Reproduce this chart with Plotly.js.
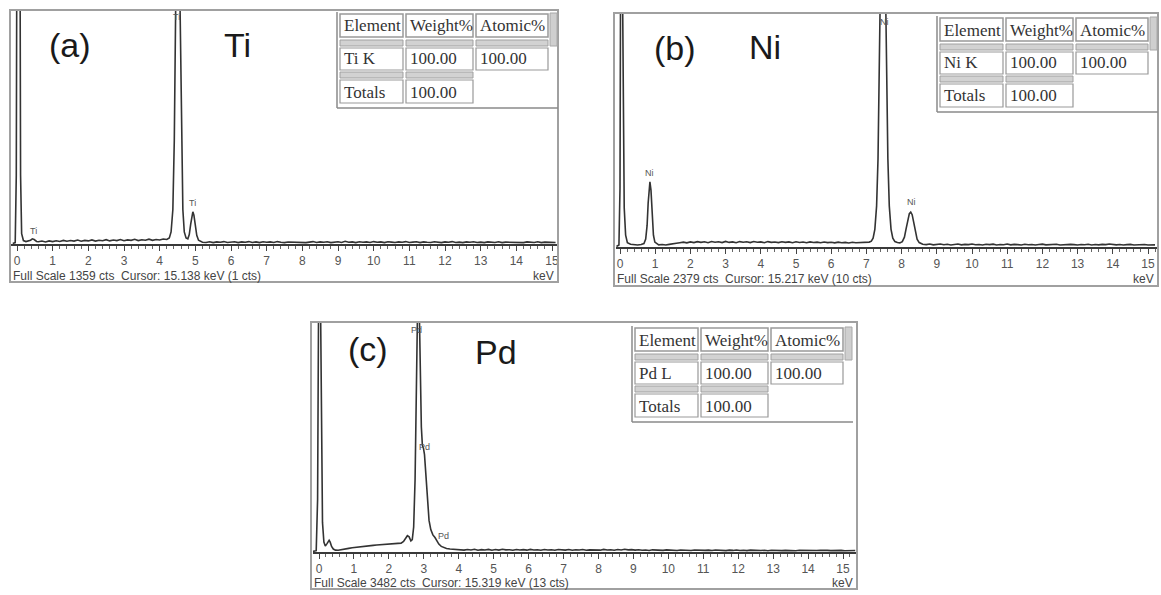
<!DOCTYPE html>
<html><head><meta charset="utf-8">
<script src="https://cdn.plot.ly/plotly-3.0.1.min.js"></script>
<style>html,body{margin:0;padding:0;background:#fff;}#chart{width:1161px;height:595px;}</style>
</head><body><div id="chart"></div>
<script>
// ---------------- data ----------------
const panelLetters = ['(a)', '(b)', '(c)'];
const panelElements = ['Ti', 'Ni', 'Pd'];
const fullScale = [1359, 2379, 3482];
const cursorKeV = ['15.138', '15.217', '15.319'];
const cursorCts = [1, 10, 13];
const tickKeV = [0,1,2,3,4,5,6,7,8,9,10,11,12,13,14,15];

const tableHeader = ['Element', 'Weight%', 'Atomic%'];
const tableLine = ['Ti K', 'Ni K', 'Pd L'];
const tableWeight = ['100.00', '100.00', '100.00'];
const tableAtomic = ['100.00', '100.00', '100.00'];
const tableTotalLabel = 'Totals';
const tableTotals = ['100.00', '100.00', '100.00'];

// Ti spectrum (keV, counts)
const tiEnergy = [-0.12,-0.05,-0.02,0.01,0.07,0.1,0.13,0.18,0.25,0.32,0.38,0.43,0.48,0.55,0.6,0.7,0.8,0.9,1.0,1.1,1.2,1.3,1.4,1.5,1.6,1.7,1.8,1.9,2.0,2.1,2.2,2.3,2.4,2.5,2.6,2.7,2.8,2.9,3.0,3.1,3.2,3.3,3.4,3.5,3.6,3.7,3.8,3.9,4.0,4.1,4.2,4.27,
4.32,4.37,4.41,4.45,4.48,4.51,4.54,4.57,4.61,4.65,4.69,4.74,4.79,4.83,4.87,4.9,4.93,4.96,5.0,5.04,5.09,5.2,
5.3,5.4,5.5,5.6,5.7,5.8,5.9,6.0,6.1,6.2,6.3,6.4,6.5,6.6,6.7,6.8,6.9,7.0,7.1,7.2,7.3,7.4,7.5,7.6,7.7,7.8,7.9,8.0,8.1,8.2,8.3,8.4,8.5,8.6,8.7,8.8,8.9,9.0,9.1,9.2,9.3,9.4,9.5,9.6,9.7,9.8,9.9,10.0,10.1,10.2,10.3,10.4,10.5,10.6,10.7,10.8,10.9,11.0,11.1,11.2,11.3,11.4,11.5,11.6,11.7,11.8,11.9,12.0,12.1,12.2,12.3,12.4,12.5,12.6,12.7,12.8,12.9,13.0,13.1,13.2,13.3,13.4,13.5,13.6,13.7,13.8,13.9,14.0,14.1,14.2,14.3,14.4,14.5,14.6,14.7,14.8,14.9,15.0,15.1];
const tiCounts = [3,8,400,3000,3000,400,60,20,14,16,22,30,26,15,13,17,12,18,14,19,15,21,16,20,17,23,16,21,18,24,17,22,19,25,18,23,20,26,19,24,21,27,20,25,22,28,21,26,23,29,26,35,
70,200,600,1400,2300,2700,2300,1400,600,200,70,35,30,55,115,168,187,168,110,50,22,10,
9,13,8,12,10,14,9,11,13,8,12,10,14,9,12,8,13,10,12,9,14,10,8,12,11,13,9,12,8,11,14,9,12,10,13,8,11,13,9,16,10,12,8,13,10,12,9,14,10,12,8,13,11,9,12,10,14,9,11,13,8,12,10,9,13,11,8,12,10,14,9,11,8,12,10,13,9,11,8,12,10,9,13,8,11,10,12,9,11,8,12,10,9,13,8,11,10,12,9];
const tiLabelEnergy = [0.45, 4.47, 4.93];
const tiLabelCounts = [74, 1318, 240];

// Ni spectrum (keV, counts)
const niEnergy = [-0.1,-0.03,0.0,0.02,0.06,0.09,0.12,0.16,0.21,0.3,0.4,0.5,0.6,0.68,
0.73,0.77,0.8,0.83,0.85,0.88,0.91,0.95,0.99,1.05,
1.1,1.2,1.3,1.4,1.5,1.6,1.7,1.8,1.9,2.0,2.1,2.2,2.3,2.4,2.5,2.6,2.7,2.8,2.9,3.0,3.1,3.2,3.3,3.4,3.5,3.6,3.7,3.8,3.9,4.0,4.1,4.2,4.3,4.4,4.5,4.6,4.7,4.8,4.9,5.0,5.1,5.2,5.3,5.4,5.5,5.6,5.7,5.8,5.9,6.0,6.1,6.2,6.3,6.4,6.5,6.6,6.7,6.8,6.9,7.0,7.08,7.14,
7.19,7.24,7.29,7.33,7.37,7.41,7.44,7.47,7.5,7.53,7.57,7.61,7.65,7.7,7.75,7.81,7.88,7.95,8.02,8.08,8.13,8.18,8.22,8.26,8.3,8.34,8.39,8.44,8.5,8.56,
8.6,8.7,8.8,8.9,9.0,9.1,9.2,9.3,9.4,9.5,9.6,9.7,9.8,9.9,10.0,10.1,10.2,10.3,10.4,10.5,10.6,10.7,10.8,10.9,11.0,11.1,11.2,11.3,11.4,11.5,11.6,11.7,11.8,11.9,12.0,12.1,12.2,12.3,12.4,12.5,12.6,12.7,12.8,12.9,13.0,13.1,13.2,13.3,13.4,13.5,13.6,13.7,13.8,13.9,14.0,14.1,14.2,14.3,14.4,14.5,14.6,14.7,14.8,14.9,15.0,15.1,15.2];
const niCounts = [5,20,600,3200,3200,1100,400,120,45,28,24,21,26,35,
80,220,450,630,665,580,340,120,50,30,
22,25,21,27,30,38,44,50,42,52,45,55,47,53,44,56,48,54,45,57,47,52,44,55,49,53,45,56,48,52,44,55,47,51,45,54,47,52,44,53,46,51,43,52,46,50,43,51,45,49,42,50,44,47,41,48,43,46,42,48,50,60,
90,180,420,900,1800,3000,4100,4500,4100,3000,1800,900,420,180,90,55,45,42,55,100,190,280,340,357,330,260,160,80,45,32,
28,24,30,22,27,31,23,28,21,26,30,22,27,24,31,23,26,20,28,24,29,21,26,23,30,22,27,24,21,28,23,26,20,25,29,22,26,23,28,21,25,22,27,24,20,26,23,28,21,25,22,27,24,31,26,22,25,20,24,27,21,25,22,26,20,24,22];
const niLabelEnergy = [0.83, 7.5, 8.27];
const niLabelCounts = [754, 2297, 459];

// Pd spectrum (keV, counts)
const pdEnergy = [-0.2,-0.08,-0.04,-0.01,0.04,0.07,0.1,0.14,0.18,0.22,0.26,0.29,0.32,0.36,0.41,0.47,0.55,0.65,0.75,0.85,0.95,1.05,1.15,1.25,1.35,1.45,1.55,1.65,1.75,1.85,1.95,2.05,2.15,2.25,2.35,2.42,2.48,2.53,2.58,2.63,2.67,2.71,2.75,2.78,2.81,2.84,2.87,2.9,2.93,2.96,2.99,3.02,3.06,3.1,3.15,3.2,3.26,3.32,3.37,3.43,3.5,3.57,3.65,3.75,3.85,3.95,
4.05,4.15,4.25,4.35,4.45,4.55,4.65,4.75,4.85,4.95,5.05,5.15,5.25,5.35,5.45,5.55,5.65,5.75,5.85,5.95,6.05,6.15,6.25,6.35,6.45,6.55,6.65,6.75,6.85,6.95,7.05,7.15,7.25,7.35,7.45,7.55,7.65,7.75,7.85,7.95,8.05,8.15,8.25,8.35,8.45,8.55,8.65,8.75,8.85,8.95,9.05,9.15,9.25,9.35,9.45,9.55,9.65,9.75,9.85,9.95,10.05,10.15,10.25,10.35,10.45,10.55,10.65,10.75,10.85,10.95,11.05,11.15,11.25,11.35,11.45,11.55,11.65,11.75,11.85,11.95,12.05,12.15,12.25,12.35,12.45,12.55,12.65,12.75,12.85,12.95,13.05,13.15,13.25,13.35,13.45,13.55,13.65,13.75,13.85,13.95,14.05,14.15,14.25,14.35,14.45,14.55,14.65,14.75,14.85,14.95,15.05,15.15,15.25,15.35];
const pdCounts = [5,20,800,4000,4000,1400,450,150,90,120,165,178,150,85,45,28,26,32,42,55,64,72,80,86,92,97,101,106,110,113,116,119,122,126,135,160,215,248,230,170,190,380,1100,2400,3900,4400,3700,2600,1900,1620,1580,1480,1150,750,480,340,260,220,175,120,85,65,52,45,40,36,
34,28,38,30,42,27,36,31,40,26,37,29,41,32,35,27,39,30,36,28,40,31,34,26,38,30,35,27,39,32,29,37,26,34,30,38,27,33,29,36,28,40,31,35,27,38,30,42,33,36,28,34,26,31,24,33,27,30,25,32,26,29,23,31,25,28,22,30,26,33,24,28,22,30,25,27,21,29,24,31,23,27,21,28,24,30,22,26,20,27,23,29,21,25,22,28,20,26,23,29,21,25,22,27,20,24,21,26,22,25,20,24,21,23];
const pdLabelEnergy = [2.78, 3.02, 3.55];
const pdLabelCounts = [3375, 1600, 250];

// ---------------- layout geometry (pixels) ----------------
const W = 1161, H = 595;
const PX = v => v / W;
const PY = v => 1 - v / H;

const spectra = [
  {E: tiEnergy, C: tiCounts, LE: tiLabelEnergy, LC: tiLabelCounts},
  {E: niEnergy, C: niCounts, LE: niLabelEnergy, LC: niLabelCounts},
  {E: pdEnergy, C: pdCounts, LE: pdLabelEnergy, LC: pdLabelCounts}
];
const geom = [
  {zero: 17, fifteen: 552, left: 11, right: 557, axisY: 244, topY: 10, frame: [10, 10, 558, 282], table: [337, 12], letter: [70, 45], elem: [237, 45], footY: 276},
  {zero: 620, fifteen: 1148, left: 616, right: 1157, axisY: 247, topY: 14, frame: [614, 13, 1158, 286], table: [937, 16], letter: [675, 48], elem: [765, 47], footY: 279},
  {zero: 319, fifteen: 843, left: 313, right: 856, axisY: 552, topY: 323, frame: [311, 322, 857, 589], table: [632, 326], letter: [368, 349], elem: [496, 352], footY: 583}
];

const traces = [];
const layout = {
  width: W, height: H,
  margin: {l: 0, r: 0, t: 0, b: 0},
  paper_bgcolor: '#fff', plot_bgcolor: '#fff',
  showlegend: false,
  shapes: [], annotations: []
};

const sansFont = 'Liberation Sans, Arial, sans-serif';
const narrowFont = 'Liberation Sans Narrow, Arial Narrow, Liberation Sans, sans-serif';
const serifFont = 'Liberation Serif, Times New Roman, serif';

function addRect(x0, y0, x1, y1, line, width, fill) {
  layout.shapes.push({type: 'rect', xref: 'paper', yref: 'paper', x0: PX(x0), x1: PX(x1), y0: PY(y1), y1: PY(y0),
    line: {color: line, width: width}, fillcolor: fill || 'rgba(0,0,0,0)', layer: 'above'});
}
function addLine(x0, y0, x1, y1, color, width) {
  layout.shapes.push({type: 'line', xref: 'paper', yref: 'paper', x0: PX(x0), x1: PX(x1), y0: PY(y0), y1: PY(y1),
    line: {color: color, width: width}, layer: 'above'});
}
function addText(x, y, text, font, anchor) {
  layout.annotations.push({xref: 'paper', yref: 'paper', x: PX(x), y: PY(y), text: text, showarrow: false,
    xanchor: anchor || 'left', yanchor: 'middle', font: font});
}

function addTable(x0, y0, i) {
  const cols = [[3, 66], [69, 136], [139, 211]];
  const tf = {family: serifFont, size: 17, color: '#333'};
  addLine(x0, y0, x0, y0 + 96, '#8a8a8a', 1.5);
  addLine(x0, y0 + 96, x0 + 221, y0 + 96, '#8a8a8a', 1.5);
  addRect(x0 + 213, y0 + 1, x0 + 220, y0 + 34, '#a8a8a8', 1, '#cfcfcf');
  cols.forEach((c, k) => {
    addRect(x0 + c[0], y0 + 2, x0 + c[1], y0 + 25, '#999', 1.5, '#fff');
    addText(x0 + c[0] + 2, y0 + 14, tableHeader[k], tf);
  });
  cols.forEach(c => addRect(x0 + c[0], y0 + 28, x0 + c[1], y0 + 34, '#a0a0a0', 1, '#d2d2d2'));
  const rowVals = [tableLine[i], tableWeight[i], tableAtomic[i]];
  cols.forEach((c, k) => {
    addRect(x0 + c[0], y0 + 36, x0 + c[1], y0 + 58, '#999', 1.2, '#fff');
    addText(x0 + c[0] + 2, y0 + 47, rowVals[k], tf);
  });
  cols.slice(0, 2).forEach(c => addRect(x0 + c[0], y0 + 60, x0 + c[1], y0 + 66, '#a0a0a0', 1, '#d2d2d2'));
  const totVals = [tableTotalLabel, tableTotals[i]];
  cols.slice(0, 2).forEach((c, k) => {
    addRect(x0 + c[0], y0 + 68, x0 + c[1], y0 + 91, '#999', 1.2, '#fff');
    addText(x0 + c[0] + 2, y0 + 80, totVals[k], tf);
  });
}

geom.forEach((g, i) => {
  const xid = i === 0 ? 'x' : 'x' + (i + 1);
  const yid = i === 0 ? 'y' : 'y' + (i + 1);
  const xkey = i === 0 ? 'xaxis' : 'xaxis' + (i + 1);
  const ykey = i === 0 ? 'yaxis' : 'yaxis' + (i + 1);
  const s = (g.fifteen - g.zero) / 15;
  layout[xkey] = {
    domain: [PX(g.left), PX(g.right)],
    range: [(g.left - g.zero) / s, (g.right - g.zero) / s],
    anchor: yid, showline: true, linecolor: '#3a3a3a', linewidth: 1.5,
    showgrid: false, zeroline: false, fixedrange: true,
    tickmode: 'array', tickvals: tickKeV, ticktext: tickKeV.map(String),
    ticks: 'outside', ticklen: 5, tickwidth: 1, tickcolor: '#444',
    minor: {ticks: 'outside', ticklen: 3, tickwidth: 1, tickcolor: '#666', tick0: 0, dtick: 0.2, showgrid: false},
    tickfont: {family: sansFont, size: 12, color: '#555'}
  };
  layout[ykey] = {
    domain: [1 - g.axisY / H, 1 - g.topY / H],
    range: [0, fullScale[i]],
    anchor: xid, visible: false, showgrid: false, zeroline: false, fixedrange: true
  };
  const sp = spectra[i];
  traces.push({
    type: 'scatter', mode: 'lines', x: sp.E, y: sp.C, xaxis: xid, yaxis: yid,
    line: {color: '#333333', width: 1.6}, hoverinfo: 'skip'
  });
  sp.LE.forEach((e, k) => {
    layout.annotations.push({xref: xid, yref: yid, x: e, y: sp.LC[k], text: panelElements[i], showarrow: false,
      xanchor: 'center', yanchor: 'middle', font: {family: sansFont, size: 9, color: '#555'}});
  });
  addRect(g.frame[0], g.frame[1], g.frame[2], g.frame[3], '#a0a0a0', 2);
  addText(g.letter[0], g.letter[1], panelLetters[i], {family: sansFont, size: 34, color: '#1a1a1a'}, 'center');
  addText(g.elem[0], g.elem[1], panelElements[i], {family: sansFont, size: 34, color: '#1a1a1a'}, 'center');
  addText(g.frame[0] + 1, g.footY, 'Full Scale ' + fullScale[i] + ' cts\u00a0 Cursor: ' + cursorKeV[i] + ' keV (' + cursorCts[i] + ' cts)',
    {family: narrowFont, size: 12, color: '#444'}, 'left');
  addText(g.frame[2] - 2, g.footY, 'keV', {family: narrowFont, size: 12, color: '#444'}, 'right');
  addTable(g.table[0], g.table[1], i);
});

Plotly.newPlot('chart', traces, layout, {staticPlot: true, displayModeBar: false});
</script>
</body></html>
